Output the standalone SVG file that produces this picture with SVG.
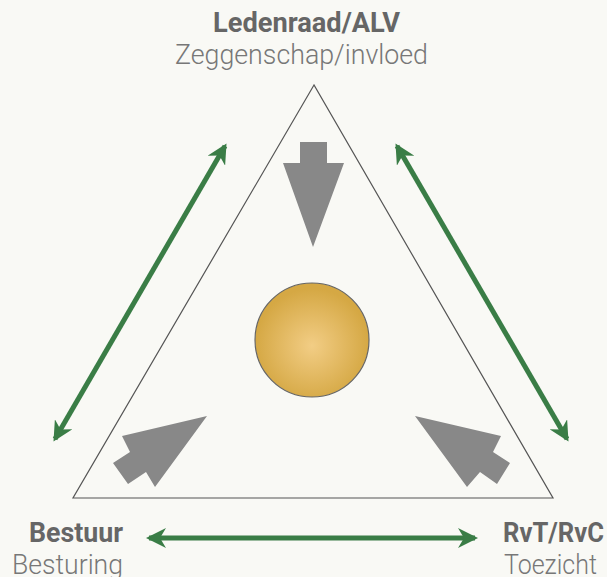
<svg xmlns="http://www.w3.org/2000/svg" width="607" height="577" viewBox="0 0 607 577">
<defs>
<radialGradient id="gold" cx="0.5" cy="0.55" r="0.5">
<stop offset="0" stop-color="#f2cd85"/>
<stop offset="1" stop-color="#d5a844"/>
</radialGradient>
<marker id="ah" viewBox="0 0 20 20" refX="17" refY="10" markerWidth="20" markerHeight="20" markerUnits="userSpaceOnUse" orient="auto-start-reverse">
<path d="M0,0 L20,10 L0,20 L6,10 Z" fill="#3a7d46"/>
</marker>
<style>
.t{font-family:Roboto,"Liberation Sans",sans-serif;font-size:27px;}
.b{font-weight:bold;fill:#666;}
.l{font-weight:300;fill:#777;}
.g{fill:#888;}
.c{stroke:#3a7d46;stroke-width:5;fill:none;}
</style>
</defs>
<rect width="607" height="577" fill="#f9f9f5"/>
<g id="triangle">
<polygon points="314,85 73,498 553,498" fill="none" stroke="#555" stroke-width="1.2"/>
</g>
<g id="center">
<circle cx="312" cy="340" r="57" fill="url(#gold)" stroke="#666" stroke-width="1.2"/>
</g>
<g id="arrow-top">
<polygon class="g" points="300,142 327,142 327,163 344,163 313,247 283,163 300,163"/>
</g>
<g id="arrow-left">
<polygon class="g" points="207,416 122,436 130,452 113,463 128,484 146,472 155,487"/>
</g>
<g id="arrow-right">
<polygon class="g" points="415,416 501,436 493,452 510,463 497,484 480,472 467,487"/>
</g>
<g id="node-top">
<text class="t b" x="213" y="32" textLength="187" lengthAdjust="spacingAndGlyphs">Ledenraad/ALV</text>
<text class="t l" x="175" y="64" textLength="253" lengthAdjust="spacingAndGlyphs">Zeggenschap/invloed</text>
</g>
<g id="node-left">
<text class="t b" x="29" y="542" textLength="94" lengthAdjust="spacingAndGlyphs">Bestuur</text>
<text class="t l" x="12" y="574" textLength="111" lengthAdjust="spacingAndGlyphs">Besturing</text>
</g>
<g id="node-right">
<text class="t b" x="503" y="542" textLength="101" lengthAdjust="spacingAndGlyphs">RvT/RvC</text>
<text class="t l" x="504" y="574" textLength="93" lengthAdjust="spacingAndGlyphs">Toezicht</text>
</g>
<g id="connectors">
<line class="c" x1="225" y1="146" x2="55" y2="439" marker-start="url(#ah)" marker-end="url(#ah)"/>
<line class="c" x1="397" y1="146" x2="567" y2="439" marker-start="url(#ah)" marker-end="url(#ah)"/>
<line class="c" x1="149" y1="538" x2="475" y2="538" marker-start="url(#ah)" marker-end="url(#ah)"/>
</g>
</svg>
